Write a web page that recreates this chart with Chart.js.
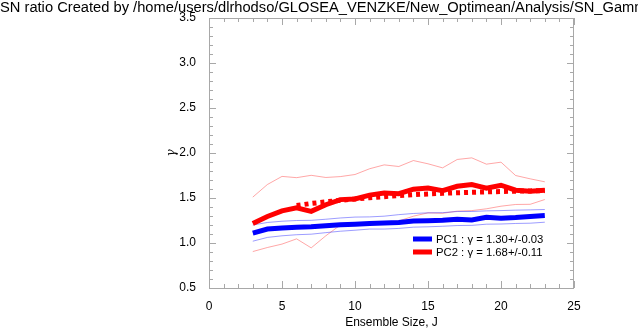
<!DOCTYPE html>
<html><head><meta charset="utf-8">
<script src="https://cdn.jsdelivr.net/npm/chart.js@4/dist/chart.umd.min.js"></script>
<style>html,body{margin:0;padding:0;background:#fff;}canvas{display:block}</style>
</head><body>
<canvas id="c" width="638" height="329"></canvas>
<script>
// ---- data ----
const titleText = "SN ratio Created by /home/users/dlrhodso/GLOSEA_VENZKE/New_Optimean/Analysis/SN_Gamma";
const xAxisTitle = "Ensemble Size, J";
const yAxisTitle = "\u03B3";
const ensembleSize = [3,4,5,6,7,8,9,10,11,12,13,14,15,16,17,18,19,20,21,22,23];
const fitSize = [6,7,8,9,10,11,12,13,14,15,16,17,18,19,20,21,22,23];
const pc1Mean  = [1.11,1.155,1.167,1.174,1.18,1.192,1.203,1.209,1.217,1.222,1.228,1.245,1.248,1.253,1.265,1.255,1.285,1.276,1.283,1.294,1.305];
const pc1Upper = [1.20,1.228,1.242,1.25,1.252,1.264,1.278,1.288,1.29,1.298,1.315,1.328,1.335,1.337,1.35,1.35,1.357,1.36,1.365,1.368,1.372];
const pc1Lower = [1.02,1.062,1.08,1.092,1.098,1.115,1.131,1.142,1.155,1.155,1.162,1.176,1.18,1.186,1.194,1.196,1.209,1.211,1.217,1.22,1.231];
const pc2Mean  = [1.217,1.295,1.357,1.392,1.352,1.425,1.482,1.49,1.532,1.556,1.548,1.598,1.61,1.582,1.63,1.65,1.608,1.642,1.587,1.576,1.587];
const pc2Upper = [1.51,1.65,1.74,1.726,1.752,1.728,1.738,1.761,1.825,1.868,1.85,1.916,1.88,1.835,1.928,1.946,1.876,1.898,1.75,1.713,1.68];
const pc2Lower = [0.905,0.95,0.988,1.046,0.946,1.08,1.2,1.21,1.22,1.235,1.245,1.298,1.335,1.33,1.354,1.36,1.38,1.409,1.428,1.43,1.483];
const pc2Fit   = [1.417,1.439,1.457,1.475,1.49,1.503,1.515,1.527,1.537,1.545,1.552,1.558,1.563,1.568,1.572,1.576,1.579,1.582];
const legendLabels = ["PC1 : \u03B3 = 1.30+/-0.03", "PC2 : \u03B3 = 1.68+/-0.11"];
const xTicks = [0,5,10,15,20,25];
const xTickLabels = ["0","5","10","15","20","25"];
const yTicks = [0.5,1.0,1.5,2.0,2.5,3.0,3.5];
const yTickLabels = ["0.5","1.0","1.5","2.0","2.5","3.0","3.5"];

// ---- styling ----
const FONT = '"Liberation Sans", Arial, Helvetica, sans-serif';
const BLUE = '#0000ff', RED = '#ff0000';
const LBLUE = 'rgba(60,60,255,0.5)', LRED = 'rgba(255,60,60,0.45)';
const FRAME = '#a8a8a8';

function pts(xs, ys){ return xs.map((x,i)=>({x:x, y:ys[i]})); }

const titlePlugin = {
  id:'titleText',
  afterDraw(chart){
    const ctx = chart.ctx;
    ctx.save();
    ctx.fillStyle = '#000';
    ctx.font = '14.7px ' + FONT;
    ctx.textAlign = 'left';
    ctx.textBaseline = 'alphabetic';
    ctx.fillText(titleText, 0, 12);
    ctx.restore();
  }
};

const framePlugin = {
  id:'frame',
  afterDraw(chart){
    const {ctx, chartArea:a, scales} = chart;
    const sx = scales.x, sy = scales.y;
    ctx.save();
    ctx.strokeStyle = FRAME; ctx.lineWidth = 1;
    ctx.strokeRect(a.left+0.5, a.top+0.5, a.right-a.left-1, a.bottom-a.top);
    ctx.beginPath();
    for (let i = 0; i <= 25; i++) {
      const px = Math.round(sx.getPixelForValue(i)) + 0.5;
      const len = (i % 5 === 0) ? 7 : 4;
      ctx.moveTo(px, a.bottom); ctx.lineTo(px, a.bottom - len);
      ctx.moveTo(px, a.top); ctx.lineTo(px, a.top + len);
    }
    for (let i = 5; i <= 35; i++) {
      const py = Math.round(sy.getPixelForValue(i/10)) + 0.5;
      const len = (i % 5 === 0) ? 7 : 4;
      ctx.moveTo(a.left, py); ctx.lineTo(a.left + len, py);
      ctx.moveTo(a.right, py); ctx.lineTo(a.right - len, py);
    }
    ctx.stroke();
    // axis titles
    ctx.fillStyle = '#000';
    ctx.font = '12px ' + FONT;
    ctx.textAlign = 'center'; ctx.textBaseline = 'middle';
    ctx.fillText(xAxisTitle, (a.left + a.right)/2, 323);
    ctx.save();
    ctx.translate(a.left - 37, (a.top + a.bottom)/2);
    ctx.rotate(-Math.PI/2);
    ctx.font = 'italic 12px "DejaVu Serif", serif';
    ctx.fillText(yAxisTitle, 0, 0);
    ctx.restore();
    ctx.restore();
  }
};

const legendPlugin = {
  id:'legendBox',
  afterDatasetsDraw(chart){
    const {ctx, chartArea:a} = chart;
    const items = chart.data.datasets.filter(d => d.legendText);
    ctx.save();
    items.forEach((d, i) => {
      const y = a.bottom - 49 + i*13;
      const x0 = a.left + 204;
      ctx.strokeStyle = d.borderColor; ctx.lineWidth = 5; ctx.lineCap = 'butt';
      ctx.beginPath(); ctx.moveTo(x0, y); ctx.lineTo(x0 + 19, y); ctx.stroke();
      ctx.fillStyle = '#000';
      ctx.font = '11.3px ' + FONT;
      ctx.textAlign = 'left'; ctx.textBaseline = 'middle';
      ctx.fillText(d.legendText, x0 + 23, y + 0.5);
    });
    ctx.restore();
  }
};

const thin = (data, color, order) => ({data, borderColor: color, borderWidth: 1, pointRadius: 0, tension: 0, fill: false, order});

new Chart(document.getElementById('c'), {
  type: 'line',
  data: {
    datasets: [
      thin(pts(ensembleSize, pc1Upper), LBLUE, 5),
      thin(pts(ensembleSize, pc1Lower), LBLUE, 5),
      thin(pts(ensembleSize, pc2Upper), LRED, 5),
      thin(pts(ensembleSize, pc2Lower), LRED, 5),
      {data: pts(fitSize, pc2Fit), borderColor: RED, borderWidth: 5, borderDash: [4,4], borderCapStyle: 'butt', pointRadius: 0, tension: 0, fill: false, order: 3},
      {data: pts(ensembleSize, pc1Mean), borderColor: BLUE, borderWidth: 5, pointRadius: 0, tension: 0, fill: false, order: 2, legendText: legendLabels[0]},
      {data: pts(ensembleSize, pc2Mean), borderColor: RED, borderWidth: 5, pointRadius: 0, tension: 0, fill: false, order: 1, legendText: legendLabels[1]}
    ]
  },
  options: {
    responsive: false,
    devicePixelRatio: 1,
    animation: false,
    layout: { padding: { top: 18, right: 64, bottom: 0, left: 0 } },
    plugins: { legend: { display: false }, tooltip: { enabled: false }, title: { display: false } },
    scales: {
      x: {
        type: 'linear', min: 0, max: 25,
        grid: { display: false }, border: { display: false },
        afterBuildTicks: s => { s.ticks = xTicks.map(v => ({value: v})); },
        afterFit: s => { s.height = 41; },
        ticks: { color: '#000', font: { size: 12, family: FONT }, padding: 3, maxRotation: 0,
                 callback: (v, i) => xTickLabels[i] }
      },
      y: {
        type: 'linear', min: 0.5, max: 3.5,
        grid: { display: false }, border: { display: false },
        afterBuildTicks: s => { s.ticks = yTicks.map(v => ({value: v})); },
        afterFit: s => { s.width = 209; },
        ticks: { color: '#000', font: { size: 12, family: FONT }, padding: 5,
                 callback: (v, i) => yTickLabels[i] }
      }
    }
  },
  plugins: [titlePlugin, framePlugin, legendPlugin]
});
</script>
</body></html>
